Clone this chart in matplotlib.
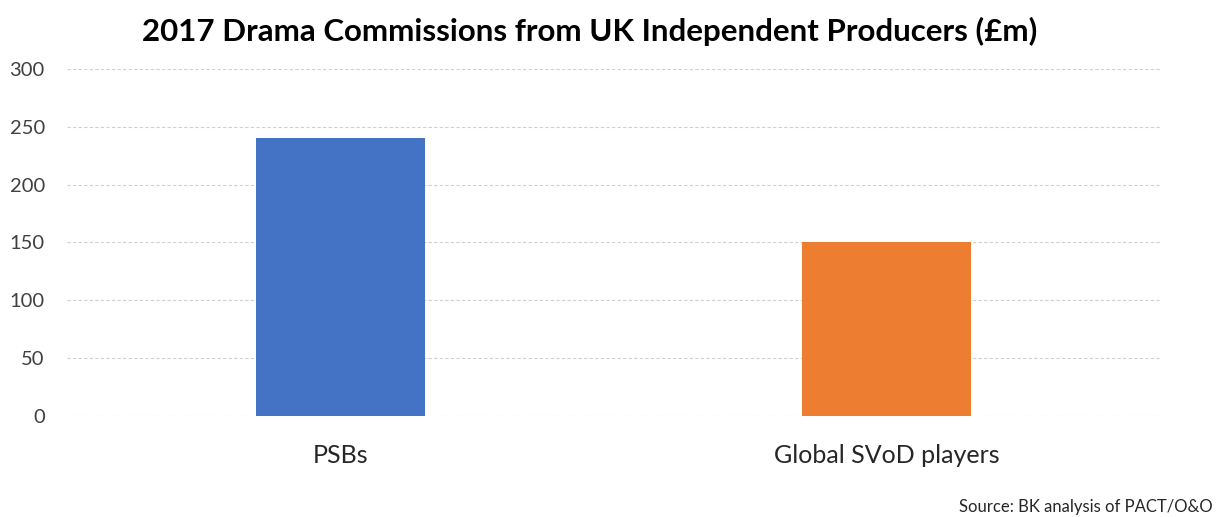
import matplotlib
matplotlib.use("Agg")
import matplotlib.pyplot as plt

# 2017 drama commissions, £m
categories = ["PSBs", "Global SVoD players"]
values = [240, 150]
bar_colors = ["#4472C4", "#ED7D31"]

plt.rcParams["font.family"] = ["Lato", "DejaVu Sans"]

fig = plt.figure(figsize=(12.26, 5.17), dpi=100)
ax = fig.add_axes([0.0547, 0.1954, 0.8913, 0.6711])

x = range(len(categories))
ax.bar(x, values, width=0.31, color=bar_colors, zorder=3)

ax.set_xlim(-0.5, 1.5)
ax.set_ylim(0, 300)
ax.set_yticks(range(0, 301, 50))
ax.set_xticks(list(x))
ax.set_xticklabels(categories, fontsize=18, color="#262626")
ax.tick_params(axis="y", labelsize=14.5, colors="#404040", length=0, pad=16)
ax.tick_params(axis="x", length=0, pad=20)

ax.grid(axis="y", color="#d0d0d0", linestyle=(0, (3, 2)), linewidth=0.8, zorder=0)
for s in ax.spines.values():
    s.set_visible(False)

fig.text(0.481, 0.94, "2017 Drama Commissions from UK Independent Producers (£m)",
         ha="center", va="center", fontsize=22.5, fontweight="bold", color="#000000")
fig.text(0.989, 0.004, "Source: BK analysis of PACT/O&O", ha="right", va="bottom",
         fontsize=12, color="#262626")

fig.savefig("out.png", dpi=100, facecolor="white")
